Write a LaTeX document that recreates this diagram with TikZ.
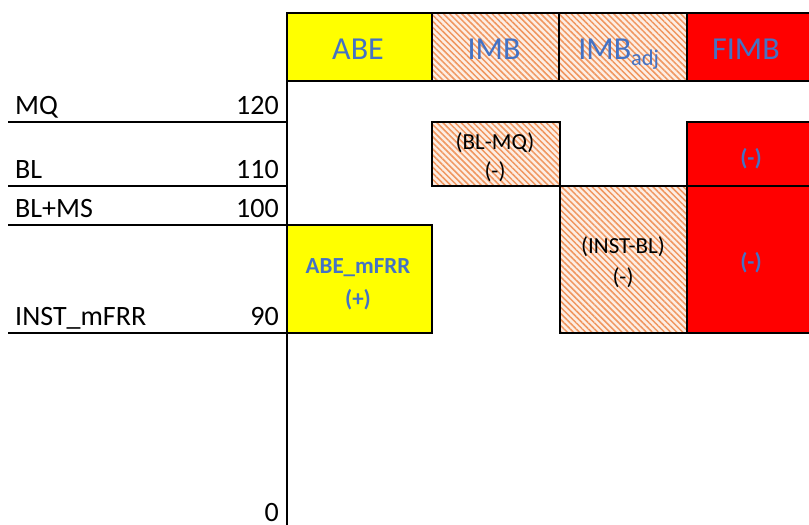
\documentclass[tikz,border=0pt]{standalone}
\usepackage{fontspec}
\setmainfont{Carlito}
\usetikzlibrary{patterns.meta}
\definecolor{hdrblue}{RGB}{68,114,196}
\definecolor{hatchline}{RGB}{240,150,95}
\definecolor{hatchbg}{RGB}{253,238,228}
\definecolor{ylw}{RGB}{255,255,0}
\definecolor{rd}{RGB}{255,0,0}
\begin{document}
\begin{tikzpicture}[x=1pt,y=-1pt,
  cell/.style={draw=black,line width=1.8pt,anchor=north west,inner sep=0pt,outer sep=0pt},
  yellowcell/.style={cell,fill=ylw},
  redcell/.style={cell,fill=rd},
  hatchcell/.style={cell,preaction={fill=hatchbg},
    pattern={Lines[angle=-45,distance=4.3pt,line width=1.5pt]},pattern color=hatchline},
  rule/.style={line width=1.8pt},
  hdr/.style={anchor=base,font=\fontsize{32}{36}\selectfont,text=hdrblue,inner sep=0pt},
  lvl/.style={anchor=base west,font=\fontsize{28}{30}\selectfont,inner sep=0pt},
  num/.style={anchor=base east,font=\fontsize{28}{30}\selectfont,inner sep=0pt},
  boxtxt/.style={anchor=base,font=\fontsize{23}{26}\selectfont,inner sep=0pt},
  boxbold/.style={boxtxt,font=\fontsize{23}{26}\selectfont\bfseries,text=hdrblue}]
\clip (0,0) rectangle (809,525);
\fill[white] (0,0) rectangle (809,525);

% header row
\node[yellowcell,minimum width=145pt,minimum height=68pt] (abeh) at (287,13) {};
\node[hatchcell,minimum width=127pt,minimum height=68pt] (imbh) at (432,13) {};
\node[hatchcell,minimum width=128pt,minimum height=68pt] (adjh) at (559,13) {};
\node[redcell,minimum width=140pt,minimum height=68pt] (fimbh) at (687,13) {};
\node[hdr] (tabe) at (358,59) {ABE};
\node[hdr] (timb) at (494,59) {IMB};
\node[hdr] (tadj) at (619,59) {IMB\textsubscript{adj}};
\node[hdr] (tfimb) at (746,59) {FIMB};

% level boxes
\node[hatchcell,minimum width=128pt,minimum height=64pt] (blmq) at (432,122) {};
\node[hatchcell,minimum width=127pt,minimum height=147pt] (instbl) at (560,186) {};
\node[redcell,minimum width=140pt,minimum height=64pt] (fimbtop) at (687,122) {};
\node[redcell,minimum width=140pt,minimum height=147pt] (fimblow) at (687,186) {};
\node[yellowcell,minimum width=145pt,minimum height=108pt] (abem) at (287,225) {};

\node[boxtxt] (blmq1) at (495,149) {(BL-MQ)};
\node[boxtxt] (blmq2) at (495,178) {(-)};
\node[boxtxt] (instbl1) at (623,253) {(INST-BL)};
\node[boxtxt] (instbl2) at (623,284) {(-)};
\node[boxbold] (fimbt) at (751,165) {(-)};
\node[boxbold] (fimbl) at (751,269) {(-)};
\node[boxbold] (abem1) at (358,273) {ABE\_mFRR};
\node[boxbold] (abem2) at (358,306) {(+)};

% level rules and vertical axis
\coordinate (mqL) at (8,122);   \coordinate (mqR) at (287,122);
\coordinate (blL) at (8,186);   \coordinate (blR) at (287,186);
\coordinate (msL) at (8,225);   \coordinate (msR) at (287,225);
\coordinate (inL) at (8,333);   \coordinate (inR) at (287,333);
\coordinate (axT) at (287,13);  \coordinate (axB) at (287,530);
\draw[rule] (mqL) -- (mqR);
\draw[rule] (blL) -- (blR);
\draw[rule] (msL) -- (msR);
\draw[rule] (inL) -- (inR);
\draw[rule] (axT) -- (axB);

% level labels
\node[lvl] (lmq) at (15,114) {MQ};
\node[num] (nmq) at (279,114) {120};
\node[lvl] (lbl) at (15,178) {BL};
\node[num] (nbl) at (279,178) {110};
\node[lvl] (lms) at (15,217) {BL+MS};
\node[num] (nms) at (279,217) {100};
\node[lvl] (lin) at (15,325) {INST\_mFRR};
\node[num] (nin) at (279,325) {90};
\node[num] (nzero) at (279,521) {0};
\end{tikzpicture}
\end{document}
